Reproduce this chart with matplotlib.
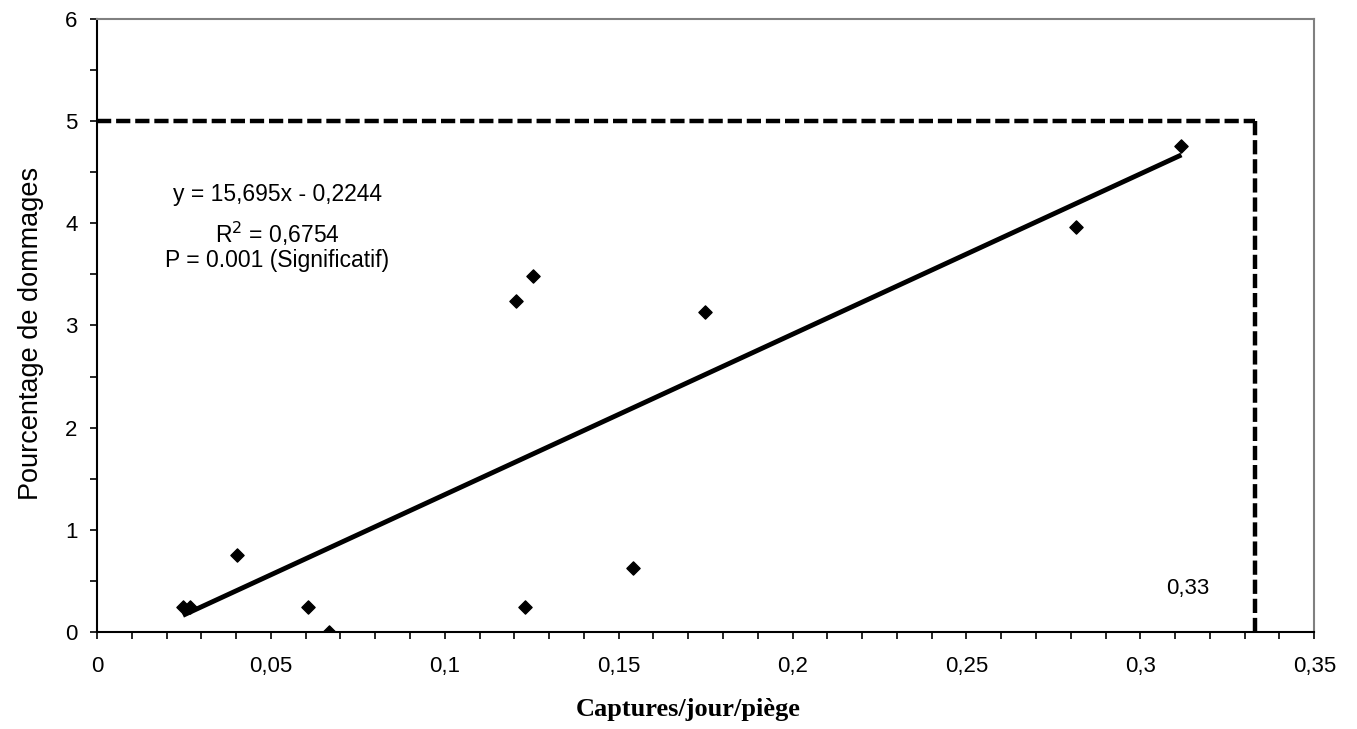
import numpy as np
import matplotlib
matplotlib.use("Agg")
import matplotlib.pyplot as plt
from matplotlib.ticker import MultipleLocator, FuncFormatter

# captures/jour/piege vs pourcentage de dommages
captures = [0.0247, 0.0267, 0.0403, 0.0607, 0.0667, 0.1205, 0.1231,
            0.1254, 0.1540, 0.1749, 0.2816, 0.3118]
dommages = [0.245, 0.245, 0.755, 0.245, 0.0, 3.235, 0.245,
            3.48, 0.63, 3.13, 3.96, 4.76]

slope, intercept = 15.695, -0.2244
seuil_x, seuil_y = 0.333, 5.0

plt.rcParams["font.family"] = ["Liberation Sans", "DejaVu Sans"]

fig = plt.figure(figsize=(13.57, 7.29), dpi=100)
ax = fig.add_axes([0.0715, 0.133, 0.897, 0.841])

# threshold dashed lines
ax.plot([0, seuil_x], [seuil_y, seuil_y], color="black", lw=3.2,
        linestyle=(0, (3.2, 1.1)), zorder=2)
ax.plot([seuil_x, seuil_x], [seuil_y, 0], color="black", lw=3.2,
        linestyle=(0, (3.2, 1.1)), zorder=2)

# regression line
xs = np.array([min(captures), max(captures)])
ax.plot(xs, slope * xs + intercept, color="black", lw=3.5,
        solid_capstyle="butt", zorder=3)

ax.scatter(captures, dommages, marker="D", s=45, color="black", zorder=4)

ax.set_xlim(0, 0.35)
ax.set_ylim(0, 6)
ax.xaxis.set_major_locator(MultipleLocator(0.05))
ax.xaxis.set_minor_locator(MultipleLocator(0.01))
ax.yaxis.set_major_locator(MultipleLocator(1))
ax.yaxis.set_minor_locator(MultipleLocator(0.5))

def fr_fmt(v, pos):
    s = ("%.2f" % v).rstrip("0").rstrip(".")
    return s.replace(".", ",")

ax.xaxis.set_major_formatter(FuncFormatter(fr_fmt))
ax.yaxis.set_major_formatter(FuncFormatter(fr_fmt))

ax.tick_params(axis="x", which="major", direction="out", length=5,
               width=1.2, labelsize=16, pad=12)
ax.tick_params(axis="y", which="major", direction="out", length=5,
               width=1.2, labelsize=16, pad=9)
ax.tick_params(axis="both", which="minor", direction="out", length=5,
               width=1.2)

for side in ["left", "bottom"]:
    ax.spines[side].set_color("black")
    ax.spines[side].set_linewidth(1.5)
for side in ["top", "right"]:
    ax.spines[side].set_color("#808080")
    ax.spines[side].set_linewidth(1.5)

ax.set_ylabel("Pourcentage de dommages", fontsize=19.5)
ax.yaxis.set_label_coords(-0.0435, 0.487)
ax.set_xlabel("Captures/jour/piège", fontsize=19, fontweight="bold",
              family=["Liberation Serif", "DejaVu Serif"])
ax.xaxis.set_label_coords(0.4856, -0.108)

ax.text(0.0518, 4.28, "y = 15,695x - 0,2244", fontsize=16.5,
        ha="center", va="center")
ax.text(0.0518, 3.90, "R$^2$ = 0,6754", fontsize=16.5,
        ha="center", va="center")
ax.text(0.0518, 3.64, "P = 0.001 (Significatif)", fontsize=16.5,
        ha="center", va="center")
ax.text(0.3135, 0.43, "0,33", fontsize=16, ha="center", va="center")

fig.savefig("out.png", dpi=100)
